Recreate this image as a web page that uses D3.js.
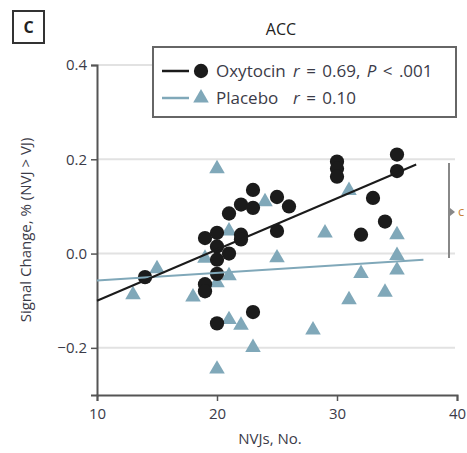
<!DOCTYPE html>
<html>
<head>
<meta charset="utf-8">
<script src="https://cdn.jsdelivr.net/npm/d3@7"></script>
<style>
  body { margin: 0; background: #fff; }
  svg { display: block; font-family: "Open Sans", sans-serif; }
</style>
</head>
<body>
<div class="chart"></div>
<script>
var width = 467;
var height = 453;

// NVJs (x) and signal change (y)
var oxyX = [14, 19, 19, 19, 20, 20, 20, 20, 20, 21, 21, 22, 22, 22, 23, 23, 23,
    25, 25, 26, 30, 30, 30, 32, 33, 34, 35, 35];
var oxyY = [-0.05, -0.065, -0.08, 0.033, 0.044, 0.015, -0.013, -0.043, -0.148, 0.085, 0.0, 0.104, 0.04, 0.03, 0.135, -0.124, 0.097,
    0.12, 0.048, 0.1, 0.195, 0.18, 0.163, 0.04, 0.118, 0.068, 0.21, 0.175];

var plaX = [13, 15, 18, 19, 20, 20, 20, 21, 21, 21, 22, 23, 24, 25, 28, 29, 31, 31,
    32, 34, 35, 35, 35];
var plaY = [-0.085, -0.03, -0.09, -0.008, 0.182, -0.06, -0.243, 0.05, -0.045, -0.138, -0.15, -0.197, 0.112, -0.007, -0.16, 0.046, 0.136, -0.096,
    -0.04, -0.08, 0.042, -0.002, -0.033];

// fitted lines, end points
var oxyFitX = [10, 36.6];
var oxyFitY = [-0.1, 0.189];
var plaFitX = [10, 37.2];
var plaFitY = [-0.057, -0.013];

var xTicks = [10, 20, 30, 40];
var yTicks = [0.4, 0.2, 0.0, -0.2];

var black = "#1b1b1b";
var blue = "#80a8b9";
var textColor = "#3b3b48";

var x = d3.scaleLinear().domain([10, 40]).range([97, 457]);
var y = d3.scaleLinear().domain([-0.3, 0.4]).range([395, 65]);

var svg = d3.select(".chart")
    .append("svg")
    .attr("width", width)
    .attr("height", height);

svg.append("rect")
    .attr("width", width)
    .attr("height", height)
    .attr("fill", "white");

// panel letter
svg.append("rect")
    .attr("x", 13).attr("y", 11)
    .attr("width", 31).attr("height", 32)
    .attr("fill", "white")
    .attr("stroke", "#333")
    .attr("stroke-width", 2);
svg.append("text")
    .attr("x", 28.5).attr("y", 33)
    .attr("text-anchor", "middle")
    .attr("font-size", 16).attr("font-weight", "bold")
    .attr("fill", "#222")
    .text("C");

svg.append("text")
    .attr("x", 281).attr("y", 35)
    .attr("text-anchor", "middle")
    .attr("font-size", 16)
    .attr("fill", "#222")
    .text("ACC");

// gridlines
svg.selectAll(".grid")
    .data(yTicks)
    .enter().append("line")
    .attr("class", "grid")
    .attr("x1", x(10)).attr("x2", 455)
    .attr("y1", function(d) { return y(d); })
    .attr("y2", function(d) { return y(d); })
    .attr("stroke", "#e2e2e2")
    .attr("stroke-width", 2);

// right bracket (cut off in the source)
svg.append("line")
    .attr("x1", 449).attr("x2", 449)
    .attr("y1", 163).attr("y2", 258)
    .attr("stroke", "#888").attr("stroke-width", 2);
svg.append("path")
    .attr("d", "M450,208 L455,212 L450,216 Z")
    .attr("fill", "#888");
svg.append("text")
    .attr("x", 458).attr("y", 216)
    .attr("font-size", 13)
    .attr("fill", "#c8823a")
    .text("c");

// axes
var xAxis = d3.axisBottom(x).tickValues(xTicks).tickSizeOuter(0).tickSize(6).tickPadding(7);
var yAxis = d3.axisLeft(y).tickValues(yTicks).tickSizeOuter(0).tickSize(6).tickPadding(4)
    .tickFormat(d3.format(".1f"));

var gx = svg.append("g")
    .attr("transform", "translate(0," + y(-0.3) + ")")
    .call(xAxis);
var gy = svg.append("g")
    .attr("transform", "translate(" + x(10) + ",0)")
    .call(yAxis);

[gx, gy].forEach(function(g) {
    g.select(".domain").attr("stroke", "#555").attr("stroke-width", 2);
    g.selectAll(".tick line").attr("stroke", "#555").attr("stroke-width", 1.5);
    g.selectAll("text")
        .attr("fill", textColor)
        .attr("font-size", 15)
        .attr("font-family", "Open Sans, sans-serif");
});

svg.append("text")
    .attr("x", 270).attr("y", 444)
    .attr("text-anchor", "middle")
    .attr("font-size", 15)
    .attr("fill", textColor)
    .text("NVJs, No.");

svg.append("text")
    .attr("transform", "translate(31," + y(0.05) + ") rotate(-90)")
    .attr("text-anchor", "middle")
    .attr("font-size", 15)
    .attr("fill", textColor)
    .text("Signal Change, % (NVJ > VJ)");

// points
var tri = d3.symbol().type(d3.symbolTriangle).size(105);
var circ = d3.symbol().type(d3.symbolCircle).size(160);

svg.selectAll(".pla")
    .data(plaX)
    .enter().append("path")
    .attr("class", "pla")
    .attr("d", tri)
    .attr("transform", function(d, i) { return "translate(" + x(d) + "," + (y(plaY[i]) + 1) + ")"; })
    .attr("fill", blue);

svg.selectAll(".oxy")
    .data(oxyX)
    .enter().append("path")
    .attr("class", "oxy")
    .attr("d", circ)
    .attr("transform", function(d, i) { return "translate(" + x(d) + "," + y(oxyY[i]) + ")"; })
    .attr("fill", black);

// fit lines
svg.append("line")
    .attr("x1", x(plaFitX[0])).attr("y1", y(plaFitY[0]))
    .attr("x2", x(plaFitX[1])).attr("y2", y(plaFitY[1]))
    .attr("stroke", blue).attr("stroke-width", 2);
svg.append("line")
    .attr("x1", x(oxyFitX[0])).attr("y1", y(oxyFitY[0]))
    .attr("x2", x(oxyFitX[1])).attr("y2", y(oxyFitY[1]))
    .attr("stroke", black).attr("stroke-width", 2);

// legend
var legend = svg.append("g");
legend.append("rect")
    .attr("x", 153).attr("y", 47)
    .attr("width", 303).attr("height", 70)
    .attr("fill", "white")
    .attr("stroke", "#666").attr("stroke-width", 2);

var rows = [
    { name: "Oxytocin", color: black, sym: circ, ry: 71, stat: ["0.69,", ".001"] },
    { name: "Placebo", color: blue, sym: tri, ry: 98, stat: ["0.10"] }
];

rows.forEach(function(r) {
    legend.append("line")
        .attr("x1", 162).attr("x2", 189)
        .attr("y1", r.ry).attr("y2", r.ry)
        .attr("stroke", r.color).attr("stroke-width", 2.5);
    legend.append("path")
        .attr("d", r.sym)
        .attr("transform", "translate(201," + r.ry + ")")
        .attr("fill", r.color);
    legend.append("text")
        .attr("x", 216).attr("y", r.ry + 6)
        .attr("font-size", 17)
        .attr("fill", textColor)
        .text(r.name);
    var t = legend.append("text")
        .attr("x", 293).attr("y", r.ry + 6)
        .attr("font-size", 17)
        .attr("fill", textColor)
        .style("word-spacing", "2px");
    t.append("tspan").attr("font-style", "italic").text("r");
    t.append("tspan").text(" = " + r.stat[0]);
    if (r.stat.length > 1) {
        t.append("tspan").attr("font-style", "italic").text(" P");
        t.append("tspan").text(" < " + r.stat[1]);
    }
});
</script>
</body>
</html>
